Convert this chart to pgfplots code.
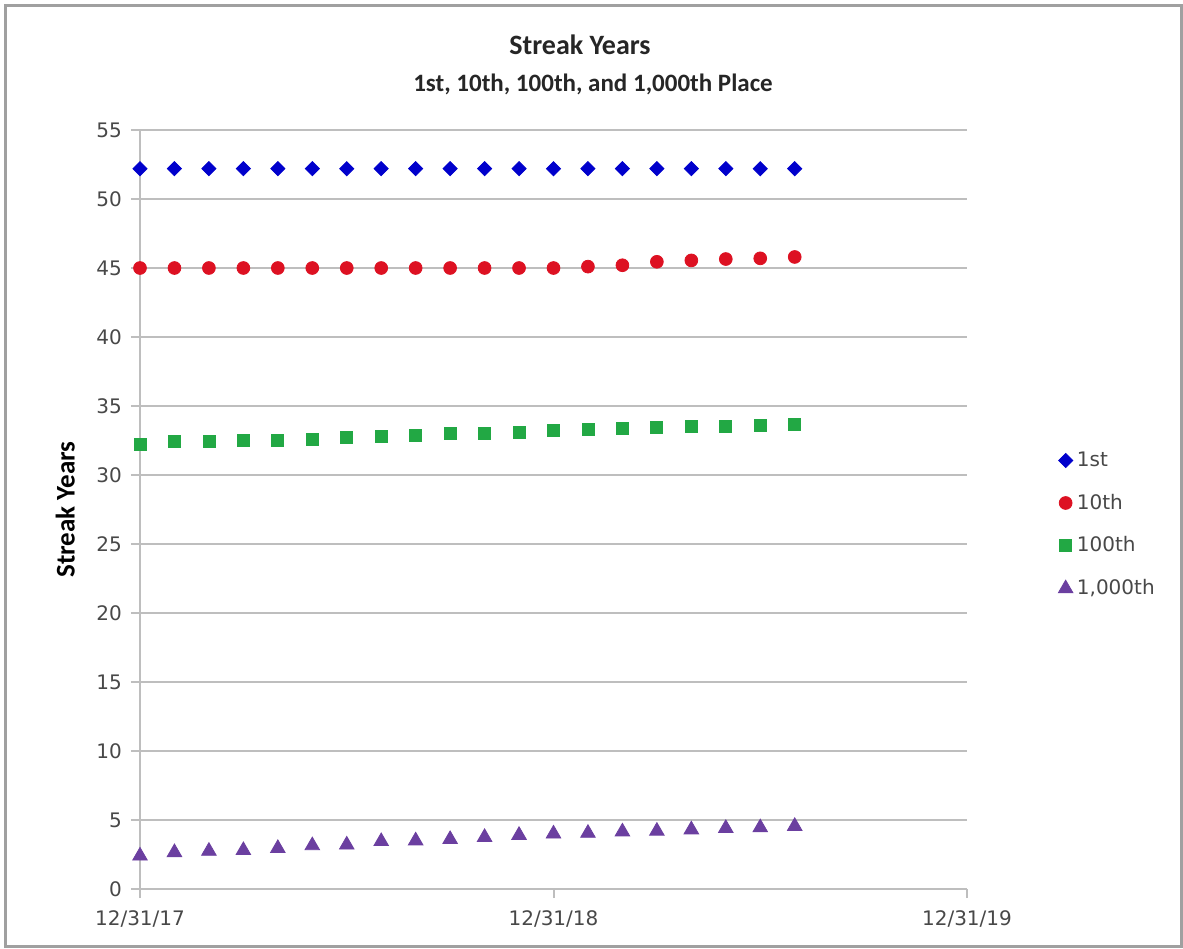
\documentclass[border=0pt]{standalone}
\usepackage{fontspec}
\setmainfont{DejaVu Sans}
\newfontfamily\calfont{Carlito}
\usepackage{pgfplots}
\pgfplotsset{compat=1.18}

\definecolor{sblue}{HTML}{0000CC}
\definecolor{sred}{HTML}{DD1122}
\definecolor{sgreen}{HTML}{22A844}
\definecolor{spurple}{HTML}{6B3FA0}
\definecolor{gridgray}{HTML}{BEBEBE}
\definecolor{framegray}{HTML}{A0A0A0}
\definecolor{ticktext}{HTML}{484848}

\begin{document}
\begin{tikzpicture}
% 1 px of the reference = 0.5pt
\path[use as bounding box] (0,0) rectangle (591.5pt,474pt);
\draw[framegray, line width=1.5pt] (2.5pt,1pt) rectangle (590.5pt,471pt);

\begin{axis}[
    at={(70pt,29.5pt)}, anchor=south west,
    scale only axis,
    width=413.5pt, height=379.5pt,
    xmin=0, xmax=24, ymin=0, ymax=55,
    xtick={0,12,24},
    xticklabels={12/31/17,12/31/18,12/31/19},
    ytick={0,5,...,55},
    axis x line*=bottom, axis y line*=left,
    axis line style={gridgray, line width=1pt},
    tick align=outside,
    major tick length=4.5pt,
    tick style={gridgray, line width=1pt},
    ymajorgrids=true,
    grid style={gridgray, line width=1pt},
    tick label style={font=\fontsize{10}{12}\selectfont, text=ticktext},
    /pgf/number format/assume math mode=true,
    xticklabel style={yshift=-3pt},
    yticklabel style={xshift=-1pt},
    ylabel={\calfont\bfseries Streak Years},
    ylabel style={font=\fontsize{13.5}{16}\selectfont, yshift=4pt},
    clip=false,
    legend style={at={(1.11,0.48)}, anchor=west, draw=none,
        font=\fontsize{10}{12}\selectfont, text=ticktext,
        row sep=8.3pt, inner sep=0pt},
    legend cell align=left,
    legend image code/.code={\draw[#1] plot coordinates {(0.1cm,0cm)};},
]
\addplot[only marks, mark=square*, mark size=2.5pt, mark options={rotate=45}, color=sblue] coordinates {
(0,52.2) (1,52.2) (2,52.2) (3,52.2) (4,52.2) (5,52.2) (6,52.2) (7,52.2) (8,52.2) (9,52.2)
(10,52.2) (11,52.2) (12,52.2) (13,52.2) (14,52.2) (15,52.2) (16,52.2) (17,52.2) (18,52.2) (19,52.2)
};
\addplot[only marks, mark=*, mark size=3.2pt, color=sred] coordinates {
(0,45.0) (1,45.0) (2,45.0) (3,45.0) (4,45.0) (5,45.0) (6,45.0) (7,45.0) (8,45.0) (9,45.0)
(10,45.0) (11,45.0) (12,45.0) (13,45.1) (14,45.2) (15,45.45) (16,45.55) (17,45.65) (18,45.7) (19,45.8)
};
\addplot[only marks, mark=square*, mark size=3pt, color=sgreen] coordinates {
(0,32.2) (1,32.4) (2,32.45) (3,32.5) (4,32.5) (5,32.6) (6,32.7) (7,32.8) (8,32.9) (9,33.0)
(10,33.05) (11,33.1) (12,33.2) (13,33.3) (14,33.35) (15,33.45) (16,33.5) (17,33.5) (18,33.6) (19,33.7)
};
\addplot[only marks, mark=triangle*, mark size=4.2pt, color=spurple] coordinates {
(0,2.4) (1,2.65) (2,2.75) (3,2.8) (4,2.95) (5,3.15) (6,3.2) (7,3.45) (8,3.5) (9,3.6)
(10,3.75) (11,3.9) (12,4.0) (13,4.05) (14,4.15) (15,4.2) (16,4.3) (17,4.4) (18,4.45) (19,4.55)
};
\legend{1st,10th,100th,{1,000th}}
\end{axis}

\node[font=\calfont\bfseries\fontsize{14}{17}\selectfont, text=black!85] at (290pt,451.5pt) {Streak Years};
\node[font=\calfont\bfseries\fontsize{12.5}{15}\selectfont, text=black!85] at (296.5pt,432pt) {1st, 10th, 100th, and 1,000th Place};
\end{tikzpicture}
\end{document}
